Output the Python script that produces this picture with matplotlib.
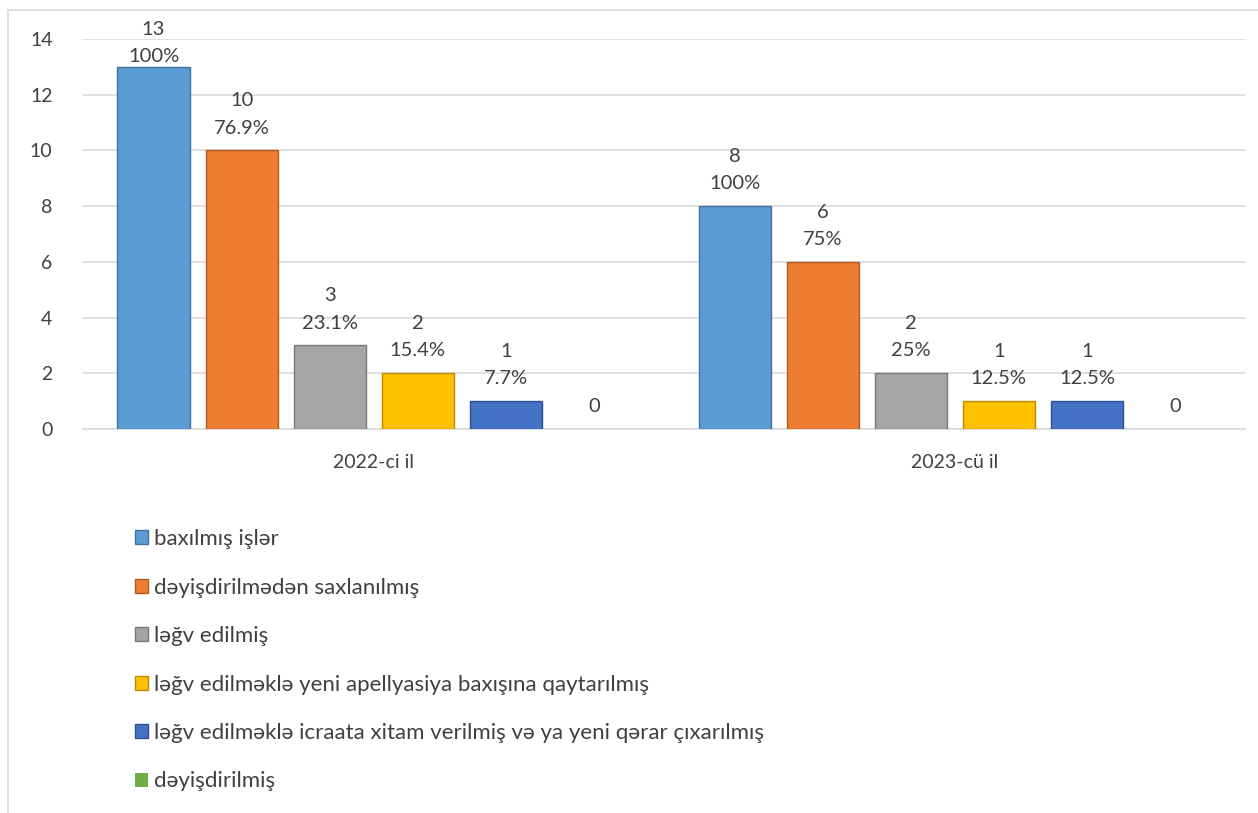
import matplotlib.pyplot as plt
import numpy as np
from matplotlib.patches import Rectangle

plt.rcParams['font.family'] = ['Lato', 'DejaVu Sans']

# data
Years = ['2022-ci il', '2023-cü il']
Series = ['baxılmış işlər',
          'dəyişdirilmədən saxlanılmış',
          'ləğv edilmiş',
          'ləğv edilməklə yeni apellyasiya baxışına qaytarılmış',
          'ləğv edilməklə icraata xitam verilmiş və ya yeni qərar çıxarılmış',
          'dəyişdirilmiş']
Values = [[13, 8], [10, 6], [3, 2], [2, 1], [1, 1], [0, 0]]
Percents = [['100%', '100%'], ['76.9%', '75%'], ['23.1%', '25%'],
            ['15.4%', '12.5%'], ['7.7%', '12.5%'], ['', '']]
Colors = ['#5B9BD5', '#ED7D31', '#A5A5A5', '#FFC000', '#4472C4', '#70AD47']
Edges = ['#41719C', '#AE5A21', '#787878', '#BC8C00', '#2F528F', '#507E32']

TextColor = '#404040'
YMax = 14

fig = plt.figure(figsize=(12.58, 8.13), dpi=100)
ax = fig.add_axes([0.066, 0.4723, 0.924, 0.4797])

# outer border of the chart
fig.patches.append(Rectangle((0.0064, -0.05), 1.2, 1.0377, transform=fig.transFigure,
                             fill=False, edgecolor='#D9D9D9', linewidth=1.2))

x = np.arange(len(Years))
step = 0.1515
width = 0.124
handles = []
for i, s in enumerate(Series):
    pos = x + (i - 2.5) * step
    lw = 1.0 if max(Values[i]) > 0 else 0
    b = ax.bar(pos, Values[i], width, color=Colors[i], edgecolor=Edges[i],
               linewidth=lw, label=s, zorder=3)
    handles.append(b)
    for j in range(len(Years)):
        lbl = str(Values[i][j])
        if Percents[i][j]:
            lbl += '\n' + Percents[i][j]
        if Values[i][j] > YMax - 3:
            # label would run off the top, pin it to the chart top like excel
            ax.annotate(lbl, (pos[j], YMax), xytext=(0, 13),
                        textcoords='offset points', ha='center', va='top',
                        fontsize=14.5, color=TextColor, linespacing=1.72)
        else:
            ax.annotate(lbl, (pos[j], Values[i][j]), xytext=(0, 10),
                        textcoords='offset points', ha='center', va='bottom',
                        fontsize=14.5, color=TextColor, linespacing=1.72)

ax.set_xlim(-0.5, 1.5)
ax.set_ylim(0, YMax)
ax.set_yticks(range(0, YMax + 1, 2))
ax.set_xticks(x)
ax.set_xticklabels(Years)
ax.tick_params(axis='both', length=0, labelsize=14, colors=TextColor)
ax.tick_params(axis='y', pad=22)
ax.tick_params(axis='x', pad=18)
ax.grid(axis='y', color='#D9D9D9', linewidth=1.2, zorder=0)
ax.set_axisbelow(True)
for sp in ['top', 'right', 'left']:
    ax.spines[sp].set_visible(False)
ax.spines['bottom'].set_color('#D9D9D9')
ax.spines['bottom'].set_linewidth(1.2)

fig.legend(handles, Series, loc='upper left', bbox_to_anchor=(0.1, 0.36),
           borderaxespad=0, frameon=False, fontsize=16, labelcolor=TextColor,
           handlelength=0.6, handleheight=0.6, handletextpad=0.25,
           labelspacing=1.28)

fig.savefig('out.png', dpi=100)
